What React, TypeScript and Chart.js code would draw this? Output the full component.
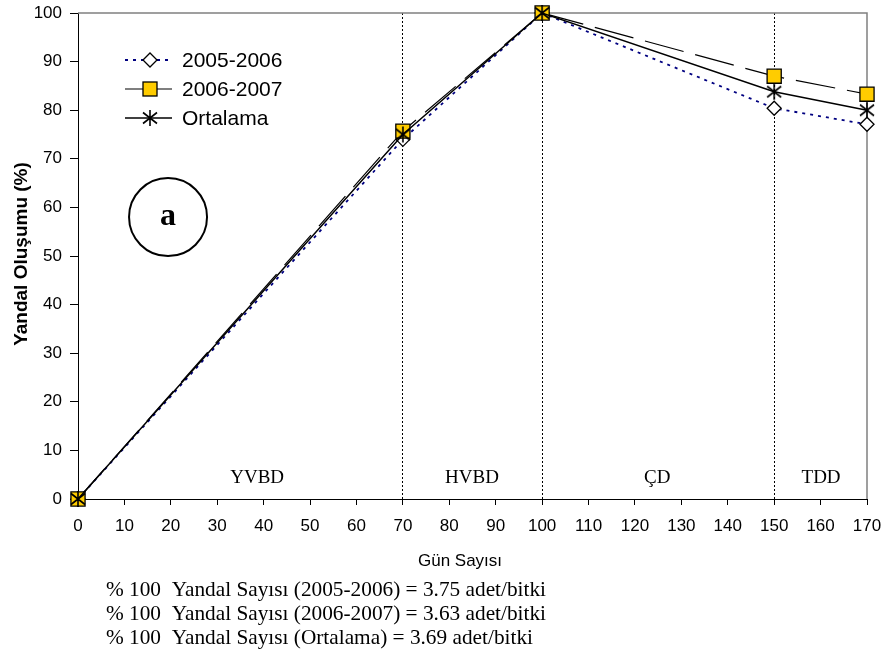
import React, { useEffect, useRef } from "react";
import { Chart, registerables } from "chart.js";

Chart.register(...registerables);

// ---- data ----
const days = [0, 70, 100, 150, 170];
const series0506 = [0, 74, 100, 80.4, 77.1];
const series0607 = [0, 75.7, 100, 87, 83.3];
const seriesAvg = [0, 75, 100, 83.8, 80];
const seriesNames = ["2005-2006", "2006-2007", "Ortalama"];
const phaseLines = [70, 100, 150];
const phaseLabels = ["YVBD", "HVBD", "ÇD", "TDD"];
const phaseLabelX = [38.6, 84.9, 124.8, 160.1];
const phaseLabelY = 4.3;
const panelLetter = "a";
const panelPos = [19.4, 58];
const xTitle = "Gün Sayısı";
const yTitle = "Yandal Oluşumu (%)";
const footnotes = [
  "% 100  Yandal Sayısı (2005-2006) = 3.75 adet/bitki",
  "% 100  Yandal Sayısı (2006-2007) = 3.63 adet/bitki",
  "% 100  Yandal Sayısı (Ortalama) = 3.69 adet/bitki",
];

const SANS = "'Liberation Sans', Arial, sans-serif";
const SERIF = "'Liberation Serif', 'Times New Roman', serif";

function makeStar(): HTMLCanvasElement {
  const c = document.createElement("canvas");
  c.width = 18;
  c.height = 18;
  const g = c.getContext("2d")!;
  g.strokeStyle = "#000";
  g.lineWidth = 1.6;
  g.beginPath();
  g.moveTo(9, 1);
  g.lineTo(9, 17);
  g.moveTo(2, 3.5);
  g.lineTo(16, 14.5);
  g.moveTo(2, 14.5);
  g.lineTo(16, 3.5);
  g.stroke();
  return c;
}

const toPts = (ys: number[]) => days.map((d, i) => ({ x: d, y: ys[i] }));

export default function App() {
  const ref = useRef<HTMLCanvasElement | null>(null);

  useEffect(() => {
    const star = makeStar();
    const styles = [
      { color: "#000080", width: 1.8, dash: [3, 5], marker: "diamond" },
      { color: "#000000", width: 1.2, dash: [40, 12], marker: "square" },
      { color: "#000000", width: 1.5, dash: [] as number[], marker: "star" },
    ];

    function drawMarker(ctx: CanvasRenderingContext2D, m: string, x: number, y: number, starImg: HTMLCanvasElement) {
      ctx.save();
      if (m === "diamond") {
        ctx.beginPath();
        ctx.moveTo(x - 7, y);
        ctx.lineTo(x, y - 7);
        ctx.lineTo(x + 7, y);
        ctx.lineTo(x, y + 7);
        ctx.closePath();
        ctx.fillStyle = "#fff";
        ctx.fill();
        ctx.strokeStyle = "#000";
        ctx.lineWidth = 1.3;
        ctx.stroke();
      } else if (m === "square") {
        ctx.fillStyle = "#FFCC00";
        ctx.fillRect(x - 7, y - 7, 14, 14);
        ctx.strokeStyle = "#000";
        ctx.lineWidth = 1.3;
        ctx.strokeRect(x - 7, y - 7, 14, 14);
      } else {
        ctx.drawImage(starImg, x - starImg.width / 2, y - starImg.height / 2);
      }
      ctx.restore();
    }

    const overlay = {
      id: "overlay",
      beforeDatasetsDraw(chart: any) {
        const { ctx, chartArea: a } = chart;
        ctx.save();
        ctx.strokeStyle = "#808080";
        ctx.lineWidth = 1.5;
        ctx.beginPath();
        ctx.moveTo(a.left, a.top);
        ctx.lineTo(a.right, a.top);
        ctx.lineTo(a.right, a.bottom);
        ctx.stroke();
        ctx.restore();
      },
      afterDatasetsDraw(chart: any) {
        const { ctx } = chart;
        const xs = chart.scales.x;
        const ys = chart.scales.y;
        ctx.save();
        // phase labels
        ctx.fillStyle = "#000";
        ctx.font = `19px ${SERIF}`;
        ctx.textAlign = "center";
        ctx.textBaseline = "middle";
        phaseLabels.forEach((t, i) => {
          ctx.fillText(t, xs.getPixelForValue(phaseLabelX[i]), ys.getPixelForValue(phaseLabelY));
        });
        // panel letter circle
        const cx = xs.getPixelForValue(panelPos[0]);
        const cy = ys.getPixelForValue(panelPos[1]);
        ctx.beginPath();
        ctx.arc(cx, cy, 39, 0, Math.PI * 2);
        ctx.strokeStyle = "#000";
        ctx.lineWidth = 2;
        ctx.stroke();
        ctx.font = `bold 32px ${SERIF}`;
        ctx.fillText(panelLetter, cx, cy);

        // legend
        const rows = [60, 89, 118];
        rows.forEach((ry, i) => {
          const st = styles[i];
          ctx.save();
          ctx.strokeStyle = st.color;
          ctx.lineWidth = st.width;
          ctx.setLineDash(i === 1 ? [] : st.dash);
          ctx.beginPath();
          ctx.moveTo(125, ry);
          ctx.lineTo(172, ry);
          ctx.stroke();
          ctx.restore();
          drawMarker(ctx, st.marker, 150, ry, star);
          ctx.fillStyle = "#000";
          ctx.font = `21px ${SANS}`;
          ctx.textAlign = "left";
          ctx.textBaseline = "middle";
          ctx.fillText(seriesNames[i], 182, ry + 1);
        });

        // axis titles
        ctx.font = `17px ${SANS}`;
        ctx.textAlign = "center";
        ctx.fillText(xTitle, 460, 561);
        ctx.save();
        ctx.translate(22, 254);
        ctx.rotate(-Math.PI / 2);
        ctx.font = `bold 19px ${SANS}`;
        ctx.fillText(yTitle, 0, 0);
        ctx.restore();

        // footnotes (stretched to the reference width)
        ctx.font = `21px ${SERIF}`;
        ctx.textAlign = "left";
        const w = ctx.measureText(footnotes[0]).width;
        const sx = 440 / w;
        footnotes.forEach((t, i) => {
          ctx.save();
          ctx.translate(106, 590 + i * 24);
          ctx.scale(sx, 1);
          ctx.fillText(t, 0, 0);
          ctx.restore();
        });
        ctx.restore();
      },
    };

    const chart = new Chart(ref.current!, {
      type: "line",
      data: {
        datasets: [
          {
            label: seriesNames[2],
            data: toPts(seriesAvg),
            borderColor: styles[2].color,
            borderWidth: styles[2].width,
            pointStyle: star as any,
            pointRadius: 8,
            order: 0,
            clip: false as any,
          },
          {
            label: seriesNames[1],
            data: toPts(series0607),
            borderColor: styles[1].color,
            borderWidth: styles[1].width,
            borderDash: styles[1].dash,
            pointStyle: "rect",
            pointRadius: 10,
            pointBackgroundColor: "#FFCC00",
            pointBorderColor: "#000",
            pointBorderWidth: 1.3,
            order: 1,
            clip: false as any,
          },
          {
            label: seriesNames[0],
            data: toPts(series0506),
            borderColor: styles[0].color,
            borderWidth: styles[0].width,
            borderDash: styles[0].dash,
            pointStyle: "rectRot",
            pointRadius: 7,
            pointBackgroundColor: "#fff",
            pointBorderColor: "#000",
            pointBorderWidth: 1.3,
            order: 2,
            clip: false as any,
          },
        ],
      },
      options: {
        responsive: false,
        animation: false,
        devicePixelRatio: 1,
        layout: { padding: { top: 13, right: 21, left: 0, bottom: 0 } },
        plugins: { legend: { display: false }, tooltip: { enabled: false } },
        elements: { line: { tension: 0 } },
        scales: {
          x: {
            type: "linear",
            min: 0,
            max: 170,
            ticks: { stepSize: 10, color: "#000", font: { family: SANS, size: 17 }, padding: 11, maxRotation: 0, autoSkip: false },
            grid: {
              color: (c: any) => (phaseLines.includes(c.tick?.value) ? "#000" : "rgba(0,0,0,0)"),
              tickColor: "#000",
              tickLength: 6,
              lineWidth: 1,
            } as any,
            border: { color: "#000", width: 1, dash: [2, 2] as any },
            afterFit: (s: any) => {
              s.height = 159;
              s.paddingLeft = 0;
              s.paddingRight = 0;
            },
          } as any,
          y: {
            type: "linear",
            min: 0,
            max: 100,
            ticks: { stepSize: 10, color: "#000", font: { family: SANS, size: 17 }, padding: 8 },
            grid: { drawOnChartArea: false, tickColor: "#000", tickLength: 8 },
            border: { color: "#000", width: 1 },
            afterFit: (s: any) => {
              s.width = 78;
              s.paddingTop = 0;
              s.paddingBottom = 0;
            },
          } as any,
        },
      },
      plugins: [overlay],
    });
    return () => chart.destroy();
  }, []);

  return (
    <div style={{ position: "absolute", left: 0, top: 0, width: 888, height: 658, background: "#fff" }}>
      <canvas ref={ref} width={888} height={658} />
    </div>
  );
}
